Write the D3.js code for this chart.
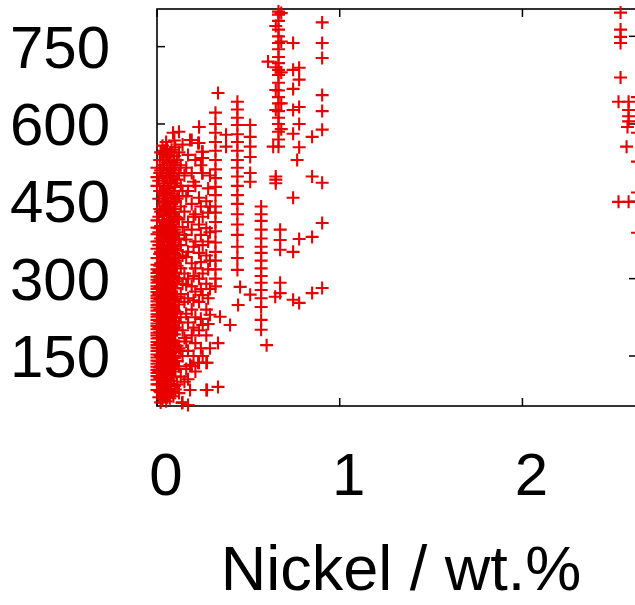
<!DOCTYPE html>
<html><head><meta charset="utf-8">
<script src="https://cdn.jsdelivr.net/npm/d3@7"></script>
<style>html,body{margin:0;padding:0;background:#fff;overflow:hidden}</style>
</head><body>
<script>
// Nickel levels (wt.%) and strength values measured at each level
const nickelLevels = [0, 0.01, 0.015, 0.02, 0.03, 0.035, 0.04, 0.05, 0.055, 0.06, 0.07, 0.075, 0.08, 0.09, 0.095, 0.10, 0.11, 0.12, 0.13, 0.14, 0.15,
  0.16, 0.17, 0.19, 0.20, 0.21, 0.23, 0.24, 0.25, 0.27, 0.28, 0.29, 0.32, 0.44, 0.57, 0.65, 0.665, 0.68];
const strengthAtLevel = [
  [84, 95, 104, 111, 117, 123, 129, 135, 141, 147, 153, 160, 166, 171, 177, 184, 190, 195, 202, 208, 213, 220, 226, 231, 238, 244, 249, 256, 262, 267, 274, 280, 285, 292, 298, 304, 311, 318, 327, 340, 358, 372, 386, 399, 413, 480, 497, 515],
  [70, 95, 120, 140, 165, 185, 205, 230, 250, 270, 295, 315, 340, 365, 390, 420, 455, 490],
  [82, 108, 128, 152, 175, 196, 218, 240, 260, 282, 302, 325, 348, 372, 398, 435, 470, 505, 530],
  [60, 80, 108, 130, 150, 175, 195, 218, 240, 262, 285, 305, 330, 352, 378, 402, 430, 470, 510, 545],
  [66, 88, 112, 135, 158, 180, 200, 225, 245, 268, 290, 310, 335, 360, 385, 410, 440, 465, 500, 530, 558],
  [77, 100, 124, 146, 170, 192, 214, 236, 258, 280, 300, 322, 346, 370, 396, 422, 448, 485, 515, 542],
  [72, 98, 118, 145, 168, 190, 212, 235, 255, 278, 300, 322, 345, 372, 395, 425, 450, 480, 520, 548],
  [62, 85, 105, 128, 152, 172, 198, 220, 242, 265, 288, 308, 332, 355, 382, 405, 432, 462, 495, 535, 565],
  [70, 93, 116, 138, 160, 183, 206, 226, 250, 270, 292, 314, 336, 360, 384, 410, 440, 468, 498, 525, 552],
  [75, 95, 122, 142, 162, 185, 208, 230, 252, 275, 295, 318, 340, 365, 390, 415, 445, 475, 505, 540],
  [68, 92, 115, 138, 160, 182, 205, 228, 248, 272, 292, 315, 338, 362, 388, 412, 438, 470, 500, 528],
  [86, 108, 132, 155, 176, 198, 222, 244, 266, 288, 310, 332, 354, 378, 402, 430, 455, 485, 512, 545],
  [80, 102, 125, 150, 175, 195, 218, 240, 262, 285, 305, 328, 350, 375, 400, 428, 458, 490, 515, 550],
  [72, 110, 135, 158, 180, 202, 225, 248, 270, 292, 312, 335, 358, 380, 405, 435, 465, 498, 525],
  [92, 125, 146, 170, 192, 215, 238, 260, 281, 302, 325, 348, 370, 395, 420, 448, 478, 510, 538, 568],
  [85, 120, 150, 178, 205, 232, 258, 282, 310, 335, 362, 390, 420, 450, 485, 520, 555],
  [95, 140, 170, 200, 235, 265, 295, 325, 355, 385, 418, 455, 492, 530],
  [78, 130, 165, 215, 250, 300, 340, 378, 415, 460, 505, 545, 585],
  [110, 160, 225, 270, 320, 365, 440, 480, 520],
  [60, 150, 200, 290, 345, 400, 470, 560],
  [100, 185, 255, 310, 385, 430, 500],
  [125, 178, 232, 288, 342, 376, 460, 515],
  [105, 160, 215, 262, 300, 352, 410, 470, 540],
  [130, 190, 240, 285, 330, 395, 445, 505, 569],
  [150, 205, 258, 305, 362, 420, 488],
  [120, 175, 225, 275, 320, 372, 425, 480, 530],
  [137, 200, 255, 300, 350, 405, 457, 563, 594],
  [165, 222, 280, 332, 385, 440, 520],
  [150, 210, 268, 310, 365, 420, 505, 534, 546],
  [84, 137, 190, 240, 290, 345, 398, 450],
  [212, 262, 318, 372, 428, 475],
  [165, 230, 280, 335, 390, 440, 500],
  [285, 300, 318, 335, 352, 370, 392, 410, 428, 440, 462, 478, 495, 512, 530, 548, 565, 583, 600, 622],
  [317, 340, 362, 385, 405, 425, 445, 462, 480, 498, 515, 530, 548, 565, 580, 598, 612, 628, 643],
  [201, 220, 245, 262, 278, 292, 305, 320, 335, 350, 362, 378, 395, 412, 425, 440],
  [485, 492, 498, 627, 666, 710, 790],
  [556, 570, 585, 600, 612, 625, 640, 652, 665, 680, 695, 705, 718, 730, 745, 757, 770, 783, 800, 812, 818],
  [590, 640, 700, 760, 815]
];
// Individual scattered points
const scatterNickel = [0.088, 0.181, 0.225, 0.230, 0.247, 0.247, 0.247, 0.334, 0.378, 0.378, 0.51, 0.51, 0.51, 0.51, 0.51, 0.51,
  0.181, 0.225, 0.274, 0.274, 0.334, 0.181, 0.137, 0.170, 0.400, 0.345, 0.334, 0.455, 0.444, 0.510, 0.60,
  0.674, 0.674, 0.674, 0.674, 0.674, 0.647, 0.745, 0.778, 0.849, 0.904, 0.745, 0.904, 0.849, 0.778, 0.745,
  0.745, 0.745, 0.745, 0.745, 0.745, 0.778, 0.778, 0.778, 0.778, 0.778, 0.767, 0.849, 0.849, 0.904,
  0.904, 0.904, 0.904, 0.904, 0.904, 0.904, 0.636, 0.608,
  2.537, 2.537, 2.537, 2.537, 2.537, 2.526, 2.581, 2.581, 2.581, 2.581, 2.575, 2.57, 2.526, 2.581,
  2.63, 2.63, 2.63, 2.63, 2.63];
const scatterStrength = [583, 569, 563, 594, 546, 534, 505, 660, 579, 556, 598, 575, 556, 536, 505, 488,
  133, 137, 137, 84, 90, 84, 59, 55, 210, 226, 175, 284, 249, 269, 171,
  395, 375, 356, 292, 272, 265, 259, 253, 272, 282, 457, 408, 381, 377, 352,
  757, 705, 668, 627, 581, 709, 686, 633, 600, 555, 530, 575, 498, 486,
  797, 757, 728, 656, 625, 589, 556, 721,
  816, 783, 769, 757, 690, 643, 643, 627, 615, 605, 594, 556, 449, 449,
  652, 583, 527, 467, 389];

const xTicks = [0, 1, 2];
const yTicks = [150, 300, 450, 600, 750];
const y2Ticks = [150, 300, 450, 600, 770];
const xTitle = "Nickel / wt.%";

const W = 635, H = 605;
const x = d3.scaleLinear().domain([0, 2.627]).range([157, 637]);
const y = d3.scaleLinear().domain([53, 823]).range([406, 9]);

const points = [];
nickelLevels.forEach((n, i) => strengthAtLevel[i].forEach(s => points.push([n, s])));
scatterNickel.forEach((n, i) => points.push([n, scatterStrength[i]]));

const svg = d3.select("body").append("svg").attr("width", W).attr("height", H)
  .style("font-family", "'Liberation Sans', Arial, sans-serif");

// frame
svg.append("rect").attr("x", x.range()[0]).attr("y", y.range()[1])
  .attr("width", x.range()[1] - x.range()[0]).attr("height", y.range()[0] - y.range()[1])
  .attr("fill", "none").attr("stroke", "#000").attr("stroke-width", 1.6);

const tl = 8;
const tickG = svg.append("g").attr("stroke", "#000").attr("stroke-width", 1.5);
xTicks.forEach(t => {
  tickG.append("line").attr("x1", x(t)).attr("x2", x(t)).attr("y1", y.range()[0]).attr("y2", y.range()[0] - tl);
  tickG.append("line").attr("x1", x(t)).attr("x2", x(t)).attr("y1", y.range()[1]).attr("y2", y.range()[1] + tl);
});
yTicks.forEach(t => {
  tickG.append("line").attr("x1", x.range()[0]).attr("x2", x.range()[0] + tl).attr("y1", y(t)).attr("y2", y(t));
});
y2Ticks.forEach(t => {
  tickG.append("line").attr("x1", x.range()[1]).attr("x2", x.range()[1] - tl).attr("y1", y(t)).attr("y2", y(t));
});

// points
svg.append("g").selectAll("path").data(points).join("path")
  .attr("transform", d => `translate(${x(d[0])},${y(d[1])})`)
  .attr("d", "M-6.5,0H6.5M0,-6.5V6.5")
  .attr("stroke", "#e80000").attr("stroke-width", 2.1).attr("fill", "none");

// tick labels
svg.append("g").selectAll("text").data(yTicks).join("text")
  .attr("x", 110).attr("y", d => y(d) + 21).attr("text-anchor", "end")
  .attr("font-size", 60).attr("fill", "#000").text(d => d);
svg.append("g").selectAll("text").data(xTicks).join("text")
  .attr("x", d => x(d) + 9).attr("y", 495).attr("text-anchor", "middle")
  .attr("font-size", 60).attr("fill", "#000").text(d => d);

svg.append("text").attr("x", 401).attr("y", 590).attr("text-anchor", "middle")
  .attr("font-size", 63).attr("fill", "#000").text(xTitle);
</script>
</body></html>
